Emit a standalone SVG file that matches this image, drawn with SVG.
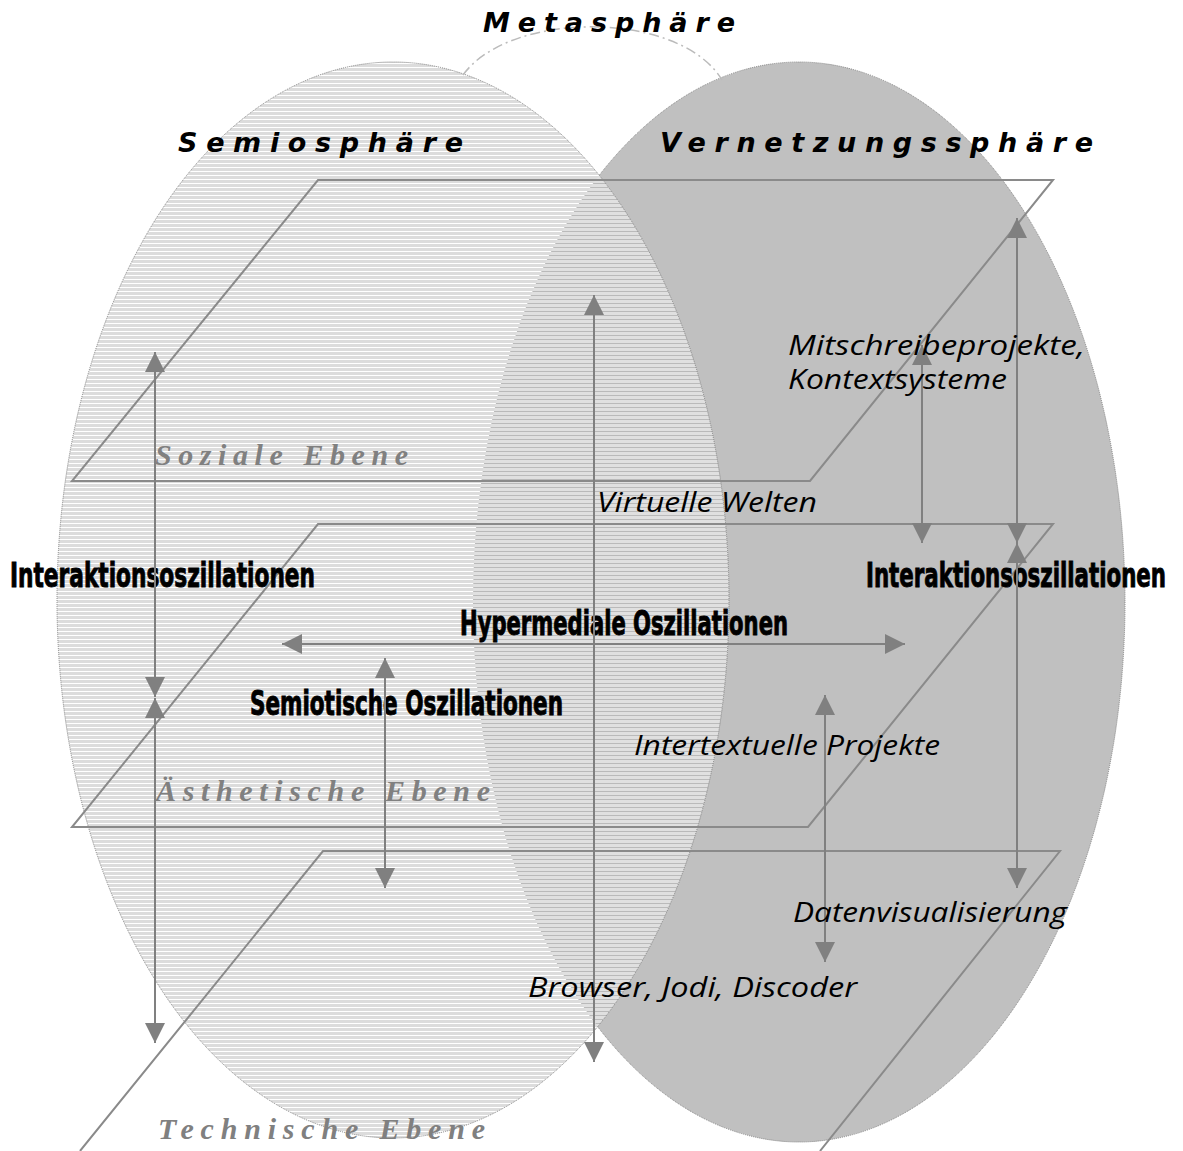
<svg xmlns="http://www.w3.org/2000/svg" width="1183" height="1151" viewBox="0 0 1183 1151">
<defs>
<pattern id="pLeft" patternUnits="userSpaceOnUse" width="8" height="4">
<rect width="8" height="4" fill="#dcdcdc"/>
<rect y="3" width="8" height="1" fill="#ffffff"/>
</pattern>
<pattern id="pOver" patternUnits="userSpaceOnUse" width="8" height="4">
<rect width="8" height="4" fill="#e0e0e0"/>
<rect y="3" width="8" height="1" fill="#bababa"/>
</pattern>
<clipPath id="clipRight"><ellipse cx="799" cy="602" rx="326" ry="540"/></clipPath>
<marker id="ah" markerUnits="userSpaceOnUse" markerWidth="20" markerHeight="20" viewBox="0 0 20 20" refX="20" refY="10" orient="auto-start-reverse">
<path d="M0,0 L20,10 L0,20 z" fill="#808080"/>
</marker>
</defs>
<style>
.border{fill:none;stroke:#808080;stroke-width:1;stroke-dasharray:1 1}
.plane{fill:none;stroke:#8a8a8a;stroke-width:2}
.arrow{stroke:#808080;stroke-width:2;fill:none;marker-start:url(#ah);marker-end:url(#ah)}
.sphere{font-family:"DejaVu Sans","Liberation Sans",sans-serif;font-weight:bold;font-style:italic;font-size:27px;fill:#000}
.level{font-family:"Liberation Serif",serif;font-weight:bold;font-style:italic;font-size:30px;fill:#808080}
.osc{font-family:"Liberation Sans Narrow","DejaVu Sans Condensed","Liberation Sans",sans-serif;font-weight:bold;font-size:33px;fill:#000;stroke:#000;stroke-width:0.9}
.ex{font-family:"Open Sans","Lato",sans-serif;font-style:italic;font-size:27px;fill:#000}
</style>
<rect width="1183" height="1151" fill="#ffffff"/>
<g id="spheres">
<ellipse id="vernetzung-shape" cx="799" cy="602" rx="326" ry="540" fill="#c0c0c0"/>
<ellipse class="border" cx="799" cy="602" rx="326" ry="540"/>
<ellipse id="semio-shape" cx="393" cy="600" rx="336" ry="538" fill="url(#pLeft)"/>
<ellipse cx="393" cy="600" rx="336" ry="538" fill="url(#pOver)" clip-path="url(#clipRight)"/>
<ellipse class="border" cx="393" cy="600" rx="336" ry="538"/>
<path id="meta-arc" d="M463,75 C510,10 680,10 722,80" fill="none" stroke="#bbbbbb" stroke-width="1.5" stroke-dasharray="10 4 2 4"/>
</g>
<g id="planes">
<polygon id="plane-sozial" class="plane" points="318,180 1053,180 810,481 72,481"/>
<polygon id="plane-aesthetisch" class="plane" points="318,524 1053,524 808,827 72,827"/>
<polyline id="plane-technisch" class="plane" points="80,1151 323,851 1060,851 820,1151"/>
</g>
<g id="titles">
<g id="t-meta"><text class="sphere" x="483" y="32" textLength="252" lengthAdjust="spacing">Metasphäre</text></g>
<g id="t-semio"><text class="sphere" x="178" y="152" textLength="285" lengthAdjust="spacing">Semiosphäre</text></g>
<g id="t-vernetzung"><text class="sphere" x="660" y="152" textLength="433" lengthAdjust="spacing">Vernetzungssphäre</text></g>
<g id="t-sozial"><text class="level" x="155" y="465" textLength="253" lengthAdjust="spacing">Soziale Ebene</text></g>
<g id="t-aesth"><text class="level" x="156" y="801" textLength="334" lengthAdjust="spacing">Ästhetische Ebene</text></g>
<g id="t-tech"><text class="level" x="158" y="1139" textLength="327" lengthAdjust="spacing">Technische Ebene</text></g>
</g>
<g id="oscillations">
<g id="o-inter-left"><text class="osc" x="10" y="587" textLength="305" lengthAdjust="spacingAndGlyphs">Interaktionsoszillationen</text></g>
<g id="o-inter-right"><text class="osc" x="866" y="587" textLength="300" lengthAdjust="spacingAndGlyphs">Interaktionsoszillationen</text></g>
<g id="o-hyper"><text class="osc" x="460" y="635" textLength="328" lengthAdjust="spacingAndGlyphs">Hypermediale Oszillationen</text></g>
<g id="o-semio"><text class="osc" x="250" y="715" textLength="313" lengthAdjust="spacingAndGlyphs">Semiotische Oszillationen</text></g>
</g>
<g id="connectors">
<line class="arrow" x1="155" y1="352" x2="155" y2="697"/>
<line class="arrow" x1="155" y1="698" x2="155" y2="1043"/>
<line class="arrow" x1="385" y1="658" x2="385" y2="888"/>
<line class="arrow" x1="594" y1="295" x2="594" y2="1062"/>
<line class="arrow" x1="282" y1="644" x2="905" y2="644"/>
<line class="arrow" x1="825" y1="695" x2="825" y2="962"/>
<line class="arrow" x1="922" y1="345" x2="922" y2="543"/>
<line class="arrow" x1="1017" y1="218" x2="1017" y2="543"/>
<line class="arrow" x1="1017" y1="543" x2="1017" y2="888"/>
</g>
<g id="examples">
<g id="e-mitschreibe"><text class="ex" x="788" y="355" textLength="297" lengthAdjust="spacingAndGlyphs">Mitschreibeprojekte,</text><text class="ex" x="788" y="389" textLength="219" lengthAdjust="spacingAndGlyphs">Kontextsysteme</text></g>
<g id="e-virtuell"><text class="ex" x="597" y="512" textLength="220" lengthAdjust="spacingAndGlyphs">Virtuelle Welten</text></g>
<g id="e-intertext"><text class="ex" x="634" y="755" textLength="306" lengthAdjust="spacingAndGlyphs">Intertextuelle Projekte</text></g>
<g id="e-daten"><text class="ex" x="793" y="922" textLength="274" lengthAdjust="spacingAndGlyphs">Datenvisualisierung</text></g>
<g id="e-browser"><text class="ex" x="528" y="997" textLength="329" lengthAdjust="spacingAndGlyphs">Browser, Jodi, Discoder</text></g>
</g>
</svg>
